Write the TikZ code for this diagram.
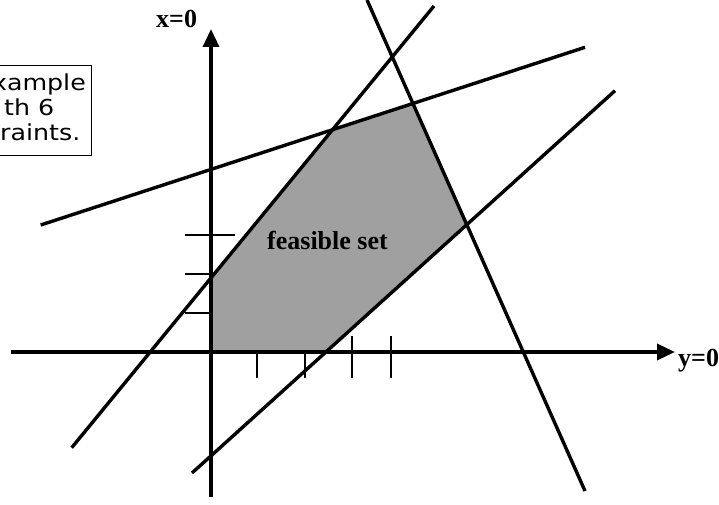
\documentclass[tikz,border=0pt]{standalone}
\usepackage{fontspec}
\setmainfont{Liberation Serif}
\newfontfamily\boxfont[FakeStretch=1.15]{DejaVu Sans}
\usetikzlibrary{arrows.meta}
\definecolor{feas}{RGB}{160,160,160}
\begin{document}
\begin{tikzpicture}[x=1pt,y=-1pt,
  cline/.style={line width=3.4pt},
  axis/.style={line width=3.4pt,-{Triangle[length=18pt,width=16pt]}},
  tick/.style={line width=2.6pt},
  lbl/.style={font=\bfseries\fontsize{26}{28}\selectfont,inner sep=0pt},
  boxtxt/.style={font=\boxfont\fontsize{22}{25}\selectfont,inner sep=0pt}]
\useasboundingbox (0,0) rectangle (719,505);
% constraint lines end points
\coordinate (u1) at (40.7,225);  \coordinate (u2) at (585,47.3);
\coordinate (l1) at (71.7,447.7); \coordinate (l2) at (434,6);
\coordinate (s1) at (367,0);     \coordinate (s2) at (585,491);
\coordinate (r1) at (192,473);   \coordinate (r2) at (615,90.7);
% axes
\coordinate (vb) at (211,497); \coordinate (vt) at (211,29);
\coordinate (hl) at (11,352);  \coordinate (hr) at (675,352);
% feasible set
\coordinate (O) at (211,352);
\coordinate (A) at (intersection of r1--r2 and hl--hr);
\coordinate (B) at (intersection of r1--r2 and s1--s2);
\coordinate (C) at (intersection of s1--s2 and u1--u2);
\coordinate (D) at (intersection of u1--u2 and l1--l2);
\coordinate (E) at (intersection of l1--l2 and vb--vt);
\fill[feas] (O) -- (A) -- (B) -- (C) -- (D) -- (E) -- cycle;
% ticks
\coordinate (t1a) at (185,235); \coordinate (t1b) at (235,235);
\coordinate (t2a) at (185,274); \coordinate (t2b) at (211,274);
\coordinate (t3a) at (185,313); \coordinate (t3b) at (211,313);
\draw[tick] (t1a) -- (t1b);
\draw[tick] (t2a) -- (t2b);
\draw[tick] (t3a) -- (t3b);
\coordinate (h1a) at (257,352); \coordinate (h1b) at (257,378);
\coordinate (h2a) at (305,352); \coordinate (h2b) at (305,378);
\coordinate (h3a) at (352,336); \coordinate (h3b) at (352,378);
\coordinate (h4a) at (391,336); \coordinate (h4b) at (391,378);
\draw[tick] (h1a) -- (h1b);
\draw[tick] (h2a) -- (h2b);
\draw[tick] (h3a) -- (h3b);
\draw[tick] (h4a) -- (h4b);
% axes
\draw[axis] (vb) -- (vt);
\draw[axis] (hl) -- (hr);
% constraint lines
\draw[cline] (u1) -- (u2);
\draw[cline] (l1) -- (l2);
\draw[cline] (s1) -- (s2);
\draw[cline] (r1) -- (r2);
% labels
\node[lbl,anchor=base west] (xl) at (156,28) {x=0};
\node[lbl,anchor=base west] (yl) at (678,366) {y=0};
\node[lbl,anchor=base west] (fs) at (267,249) {feasible set};
% text box
\draw[line width=1pt] (-5,66) rectangle (91,156);
\node[boxtxt,anchor=base east] (b1) at (86,91) {xample};
\node[boxtxt,anchor=base west] (b2) at (4,116) {th 6};
\node[boxtxt,anchor=base west] (b3) at (0,141) {raints.};
\end{tikzpicture}
\end{document}
